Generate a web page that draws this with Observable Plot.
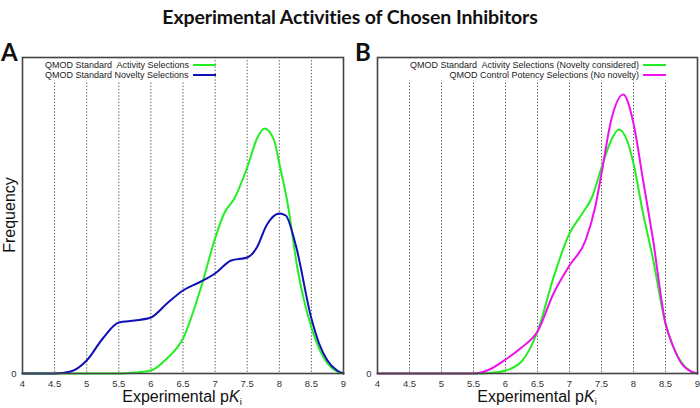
<!DOCTYPE html>
<html><head><meta charset="utf-8">
<script src="https://cdn.jsdelivr.net/npm/d3@7"></script>
<script src="https://cdn.jsdelivr.net/npm/@observablehq/plot@0.6"></script>
<style>
body{margin:0;background:#fff;}
#wrap{position:relative;width:700px;height:408px;overflow:hidden;font-family:"Liberation Sans",Arial,sans-serif;color:#111;}
#title{position:absolute;left:0;top:4px;width:700px;text-align:center;font-family:Lato,"Open Sans",sans-serif;font-weight:bold;font-size:19.5px;line-height:26px;letter-spacing:-0.1px;}
.panel{position:absolute;font-family:Lato,sans-serif;font-weight:bold;font-size:24px;line-height:24px;}
.plot{position:absolute;top:30px;}
.xlab{position:absolute;top:389px;width:320px;text-align:center;font-size:16px;line-height:16px;}
.xlab sub{font-size:9.5px;vertical-align:-3px;line-height:0;}
.ylab{position:absolute;left:-40px;top:206px;width:100px;text-align:center;font-size:16px;transform:rotate(-90deg);}
.legend{position:absolute;top:59px;background:#fff;font-size:9px;line-height:9.5px;text-align:right;padding-top:2px;height:20px;white-space:nowrap;color:#222;}
.legend .sw{display:inline-block;width:23px;height:2px;vertical-align:middle;margin-left:4px;margin-bottom:1px;}
</style></head>
<body><div id="wrap">
<div id="title">Experimental Activities of Chosen Inhibitors</div>
<div class="panel" style="left:1px;top:40px">A</div>
<div class="panel" style="left:355px;top:40px">B</div>
<div id="pa" class="plot" style="left:0"></div>
<div id="pb" class="plot" style="left:350px"></div>
<div class="ylab">Frequency</div>
<div class="xlab" style="left:22px">Experimental p<i>K</i><sub>i</sub></div>
<div class="xlab" style="left:377px">Experimental p<i>K</i><sub>i</sub></div>
<div id="legA" class="legend" style="left:45px;width:165px"></div>
<div id="legB" class="legend" style="left:400px;width:266px"></div>
</div>
<script>
// Tick values
const xTicks = [4, 4.5, 5, 5.5, 6, 6.5, 7, 7.5, 8, 8.5, 9];
const gridTicks = [4.5, 5, 5.5, 6, 6.5, 7, 7.5, 8, 8.5];
const xDomain = [4, 9];
const yDomain = [0, 316];

// Panel A: QMOD Standard Activity Selections (green)
const aGreenX = [4, 4.5, 5, 5.5, 5.75, 6, 6.25, 6.5, 6.78, 7, 7.14, 7.3, 7.5, 7.66, 7.77, 7.92, 8, 8.13, 8.28, 8.5, 8.62, 8.75, 8.9, 9];
const aGreenY = [0, 0, 0, 0, 1, 3, 15, 35, 86, 135, 160, 175, 206, 236, 245, 233, 210, 170, 106, 46, 25, 10, 2, 0];
// Panel A: QMOD Standard Novelty Selections (blue)
const aBlueX = [4, 4.5, 4.75, 5, 5.25, 5.5, 5.75, 6, 6.25, 6.5, 6.75, 7, 7.25, 7.5, 7.65, 7.8, 8, 8.1, 8.25, 8.5, 8.62, 8.75, 8.9, 9];
const aBlueY = [0, 0, 2, 13, 35, 51, 53, 56, 70, 83, 91, 100, 113, 116, 126, 148, 160, 158, 130, 55, 30, 13, 3, 0];
// Panel B: QMOD Standard Activity Selections (Novelty considered) (green)
const bGreenX = [4, 5.5, 5.75, 6, 6.25, 6.5, 6.75, 7, 7.2, 7.35, 7.5, 7.65, 7.77, 7.9, 8, 8.15, 8.3, 8.5, 8.62, 8.75, 8.9, 9];
const bGreenY = [0, 0, 0.5, 3, 12, 42, 96, 140, 160, 176, 206, 233, 244, 233, 210, 160, 116, 50, 27, 11, 2, 0];
// Panel B: QMOD Control Potency Selections (No novelty) (magenta)
const bMagX = [4, 5.5, 5.75, 6, 6.25, 6.5, 6.75, 7, 7.25, 7.4, 7.5, 7.65, 7.84, 8, 8.15, 8.3, 8.5, 8.62, 8.75, 8.9, 9];
const bMagY = [0, 0, 4, 14, 26, 42, 80, 108, 133, 166, 200, 253, 279, 250, 193, 136, 50, 27, 10, 2, 0];

const legendA = ["QMOD Standard\u00a0 Activity Selections", "QMOD Standard Novelty Selections"];
const legendB = ["QMOD Standard\u00a0 Activity Selections (Novelty considered)", "QMOD Control Potency Selections (No novelty)"];
const colA = ["#22ee22", "#1010b8"];
const colB = ["#22ee22", "#ee10ee"];

const zip = (xs, ys) => xs.map((x, i) => ({x, y: ys[i]}));

function panel(series, colors, marginLeft, marginRight) {
  return Plot.plot({
    width: 350, height: 378,
    marginLeft, marginRight, marginTop: 27, marginBottom: 35,
    style: {fontFamily: "'Liberation Sans', Arial, sans-serif", fontSize: "9.5px", color: "#333", background: "transparent", overflow: "visible"},
    x: {domain: xDomain},
    y: {domain: yDomain},
    marks: [
      Plot.ruleX(gridTicks, {stroke: "#333", strokeOpacity: 0.9, strokeDasharray: "1.2,2"}),
      Plot.axisX({anchor: "bottom", ticks: xTicks, tickSize: 0, tickPadding: 7, label: null, tickFormat: d => String(d)}),
      Plot.axisY({ticks: [0], tickSize: 0, tickPadding: 6, label: null}),
      ...series.map((s, i) => Plot.line(s, {x: "x", y: "y", stroke: colors[i], strokeWidth: 2, curve: "monotone-x"})),
      Plot.frame({stroke: "#444", strokeWidth: 1.6})
    ]
  });
}

document.getElementById("pa").appendChild(panel([zip(aGreenX, aGreenY), zip(aBlueX, aBlueY)], colA, 22, 7));
document.getElementById("pb").appendChild(panel([zip(bGreenX, bGreenY), zip(bMagX, bMagY)], colB, 27, 3));

function legend(el, labels, colors) {
  el.innerHTML = labels.map((t, i) => `<div>${t}<span class="sw" style="background:${colors[i]}"></span></div>`).join("");
}
legend(document.getElementById("legA"), legendA, colA);
legend(document.getElementById("legB"), legendB, colB);
</script>
</body></html>
